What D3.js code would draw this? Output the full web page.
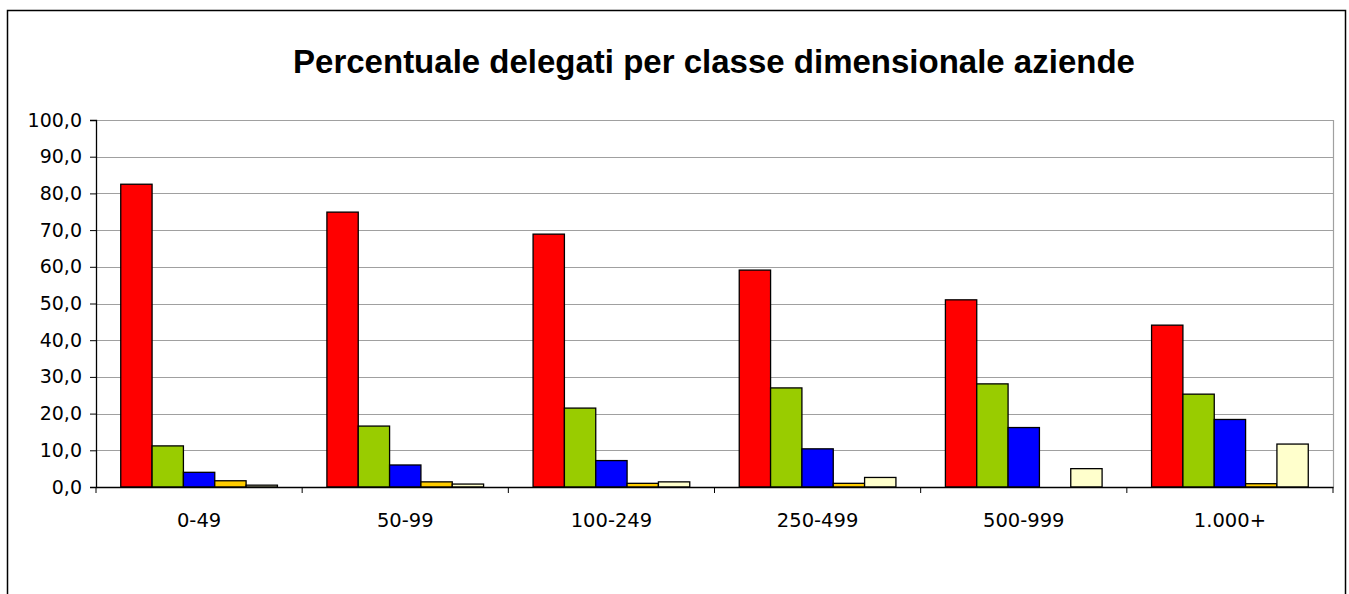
<!DOCTYPE html>
<html>
<head>
<meta charset="utf-8">
<script src="https://cdn.jsdelivr.net/npm/d3@7"></script>
<style>
  body { margin: 0; background: #fff; }
  svg { display: block; }
</style>
</head>
<body>
<div id="chart"></div>
<script>
// data
let categories = ["0-49", "50-99", "100-249", "250-499", "500-999", "1.000+"];
let seriesNames = ["s1", "s2", "s3", "s4", "s5"];
let s1 = [82.5, 74.9, 68.9, 59.1, 51.0, 44.1];
let s2 = [11.2, 16.6, 21.5, 27.0, 28.1, 25.3];
let s3 = [4.0, 6.0, 7.2, 10.4, 16.2, 18.4];
let s4 = [1.7, 1.4, 1.0, 1.0, 0, 0.9];
let s5 = [0.5, 0.8, 1.4, 2.6, 5.0, 11.7];
let yTicks = [0, 10, 20, 30, 40, 50, 60, 70, 80, 90, 100];
let colors = ["#ff0000", "#99cc00", "#0000ff", "#ffcc00", "#ffffcc"];

let series = [s1, s2, s3, s4, s5];

let width = 1349, height = 594;
let plotLeft = 96, plotRight = 1333, plotTop = 120, plotBottom = 487;

let svg = d3.select("#chart").append("svg")
    .attr("width", width)
    .attr("height", height);

// outer chart frame
svg.append("rect")
    .attr("x", 7.5).attr("y", 10.5)
    .attr("width", 1338).attr("height", 600)
    .attr("fill", "none").attr("stroke", "#000").attr("stroke-width", 1.5);

svg.append("text")
    .attr("x", 714).attr("y", 73)
    .attr("text-anchor", "middle")
    .attr("font-family", "Liberation Sans, Arial, sans-serif")
    .attr("font-weight", "bold")
    .attr("font-size", 33)
    .text("Percentuale delegati per classe dimensionale aziende");

let x = d3.scaleBand()
    .domain(categories)
    .range([plotLeft, plotRight]);

let step = x.bandwidth();
let gap = step * 0.24;
let xInner = d3.scaleBand()
    .domain(seriesNames)
    .range([gap / 2, step - gap / 2]);

let y = d3.scaleLinear()
    .domain([0, 100])
    .range([plotBottom, plotTop]);

// gridlines
svg.append("g")
    .selectAll("line")
    .data(yTicks.slice(1))
    .join("line")
    .attr("x1", plotLeft).attr("x2", plotRight)
    .attr("y1", d => Math.round(y(d)) + 0.5)
    .attr("y2", d => Math.round(y(d)) + 0.5)
    .attr("stroke", "#a0a0a0").attr("stroke-width", 1.2);

// right border of plot area
svg.append("line")
    .attr("x1", plotRight + 0.5).attr("x2", plotRight + 0.5)
    .attr("y1", plotTop).attr("y2", plotBottom)
    .attr("stroke", "#a0a0a0").attr("stroke-width", 1.2);

// bars
svg.append("g")
    .selectAll("g")
    .data(series)
    .join("g")
    .attr("fill", (d, i) => colors[i])
    .selectAll("rect")
    .data((d, i) => d.map((v, j) => ({v, cat: categories[j], s: seriesNames[i]})))
    .join("rect")
    .attr("x", d => x(d.cat) + xInner(d.s))
    .attr("y", d => y(d.v))
    .attr("width", xInner.bandwidth())
    .attr("height", d => plotBottom - y(d.v))
    .attr("stroke", "#000")
    .attr("stroke-width", 1.3)
    .attr("display", d => d.v > 0 ? null : "none");

// y axis
let yAxis = d3.axisLeft(y)
    .tickValues(yTicks)
    .tickSize(6)
    .tickFormat(d => d3.format(".1f")(d).replace(".", ","));

let gy = svg.append("g")
    .attr("transform", `translate(${plotLeft},0)`)
    .call(yAxis);
gy.select(".domain").attr("stroke", "#000").attr("stroke-width", 1.3);
gy.selectAll(".tick line").attr("stroke", "#000");
gy.selectAll(".tick text")
    .attr("x", -14)
    .attr("font-family", "DejaVu Sans, Verdana, sans-serif")
    .attr("font-size", 19)
    .attr("fill", "#000");

// x axis
let xAxis = d3.axisBottom(x)
    .tickSize(0)
    .tickPadding(26);

let gx = svg.append("g")
    .attr("transform", `translate(0,${plotBottom})`)
    .call(xAxis);
gx.select(".domain").attr("stroke", "#000").attr("stroke-width", 1.3);
gx.selectAll(".tick text")
    .attr("font-family", "DejaVu Sans, Verdana, sans-serif")
    .attr("font-size", 19.5)
    .attr("fill", "#000");

// category boundary ticks
gx.append("g")
    .selectAll("line")
    .data(categories.concat([null]))
    .join("line")
    .attr("x1", d => d === null ? plotRight : x(d))
    .attr("x2", d => d === null ? plotRight : x(d))
    .attr("y1", 0).attr("y2", 6)
    .attr("stroke", "#000");
</script>
</body>
</html>
